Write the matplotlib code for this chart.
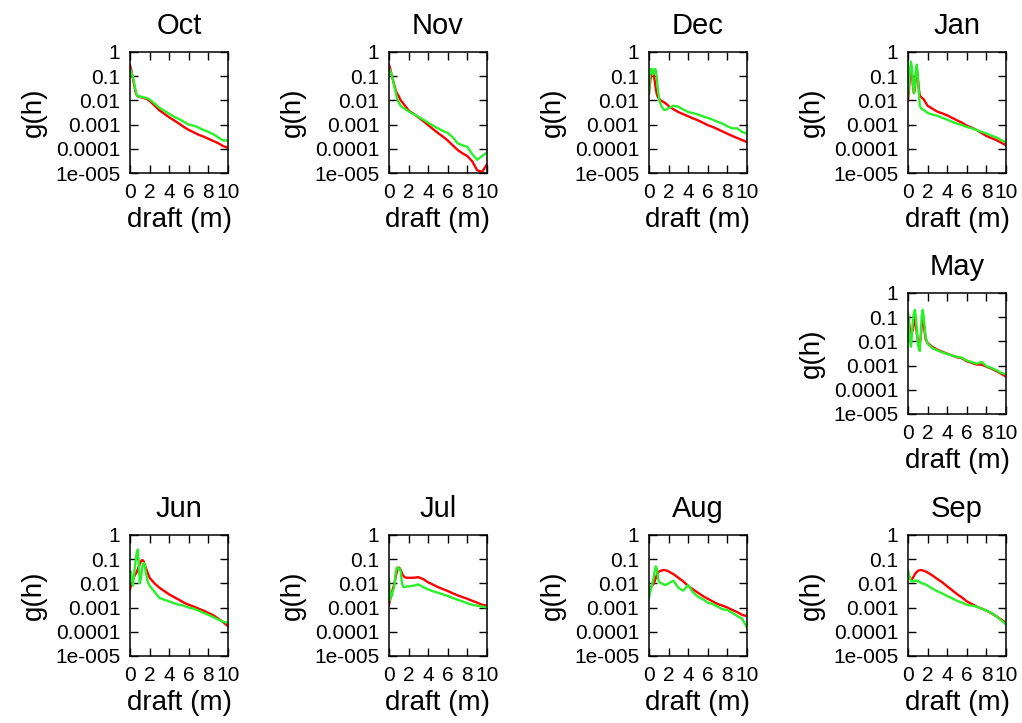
import matplotlib
matplotlib.use("Agg")
import matplotlib.pyplot as plt
import numpy as np
from matplotlib.ticker import LogLocator, NullFormatter

plt.rcParams['font.family'] = ['Liberation Sans', 'DejaVu Sans']

# ice draft bins (m)
draft = [0, 0.1, 0.2, 0.3, 0.4, 0.5, 0.6, 0.7, 0.8, 0.9, 1.0, 1.1, 1.2, 1.3, 1.4,
         1.5, 1.6, 1.8, 2.0, 2.5, 3.0, 3.5, 4.0, 4.5, 5.0, 5.5, 6.0, 6.5, 7.0,
         7.5, 8.0, 8.5, 9.0, 9.5, 10.0]

oct_red = [0.28, 0.2, 0.12, 0.08, 0.05, 0.03, 0.02, 0.016, 0.015, 0.014, 0.014, 0.014, 0.013, 0.013, 0.013,
           0.012, 0.012, 0.011, 0.0095, 0.0062, 0.0039, 0.0028, 0.002, 0.0015, 0.0011, 8e-4, 6e-4, 4.8e-4, 3.8e-4,
           3.2e-4, 2.6e-4, 2.1e-4, 1.7e-4, 1.3e-4, 1.1e-4]
oct_green = [0.2, 0.15, 0.12, 0.09, 0.06, 0.035, 0.022, 0.017, 0.015, 0.015, 0.014, 0.014, 0.014, 0.014, 0.013,
             0.013, 0.013, 0.012, 0.011, 0.0075, 0.005, 0.0037, 0.0028, 0.0021, 0.0017, 0.0013, 0.001, 9e-4, 7.5e-4,
             6e-4, 5e-4, 4e-4, 3e-4, 2.2e-4, 2.2e-4]

nov_red = [0.3, 0.22, 0.15, 0.1, 0.07, 0.05, 0.035, 0.025, 0.02, 0.017, 0.015, 0.012, 0.01, 0.009, 0.008,
           0.007, 0.0063, 0.005, 0.0038, 0.0028, 0.002, 0.0014, 9.5e-4, 6.5e-4, 4.5e-4, 3.2e-4, 2.2e-4, 1.4e-4, 9e-5,
           6.5e-5, 5e-5, 3e-5, 1.3e-5, 1.1e-5, 2.3e-5]
nov_green = [0.2, 0.17, 0.14, 0.1, 0.07, 0.045, 0.03, 0.02, 0.013, 0.01, 0.008, 0.007, 0.006, 0.0055, 0.005,
             0.0048, 0.0045, 0.004, 0.0035, 0.0027, 0.0021, 0.0016, 0.0012, 9e-4, 7e-4, 5.5e-4, 4.5e-4, 3e-4, 1.7e-4,
             1.4e-4, 1.2e-4, 6e-5, 3.5e-5, 5e-5, 7e-5]

dec_red = [0.019, 0.05, 0.1, 0.15, 0.15, 0.1, 0.06, 0.03, 0.018, 0.014, 0.012, 0.011, 0.01, 0.0095, 0.009,
           0.0085, 0.008, 0.007, 0.0058, 0.0043, 0.0033, 0.0027, 0.0022, 0.0018, 0.0015, 0.0012, 9.5e-4, 8e-4, 6.5e-4,
           5.2e-4, 4.2e-4, 3.4e-4, 2.8e-4, 2.3e-4, 1.9e-4]
dec_green = [0.02, 0.1, 0.2, 0.2, 0.12, 0.15, 0.2, 0.18, 0.08, 0.03, 0.015, 0.009, 0.007, 0.0055, 0.0048,
             0.0042, 0.004, 0.0042, 0.0048, 0.006, 0.0055, 0.0042, 0.0033, 0.003, 0.0026, 0.0022, 0.0019, 0.0016, 0.0013,
             0.0011, 8.5e-4, 7e-4, 7e-4, 5e-4, 4.2e-4]

jan_red = [0.01, 0.03, 0.12, 0.25, 0.12, 0.04, 0.02, 0.03, 0.12, 0.2, 0.08, 0.03, 0.016, 0.014, 0.013,
           0.012, 0.011, 0.008, 0.006, 0.0045, 0.0034, 0.0029, 0.0024, 0.0019, 0.0015, 0.0012, 9e-4, 7.5e-4, 6e-4,
           4.5e-4, 3.4e-4, 2.8e-4, 2.3e-4, 1.8e-4, 1.4e-4]
jan_green = [0.014, 0.05, 0.2, 0.4, 0.2, 0.05, 0.02, 0.04, 0.2, 0.3, 0.1, 0.02, 0.006, 0.005, 0.0045,
             0.0042, 0.004, 0.0035, 0.003, 0.0026, 0.0023, 0.0019, 0.0016, 0.0013, 0.0011, 9.5e-4, 8e-4, 7e-4, 6e-4,
             5e-4, 4.3e-4, 3.5e-4, 3e-4, 2.3e-4, 1.8e-4]

may_red = [0.12, 0.06, 0.03, 0.02, 0.025, 0.03, 0.06, 0.08, 0.05, 0.02, 0.01, 0.008, 0.008, 0.015, 0.05,
           0.08, 0.05, 0.012, 0.0085, 0.0058, 0.0045, 0.0037, 0.0031, 0.0026, 0.0022, 0.002, 0.0015, 0.0013, 0.0011,
           0.0011, 9e-4, 7.5e-4, 6e-4, 4.6e-4, 3.5e-4]
may_green = [0.15, 0.04, 0.01, 0.006, 0.02, 0.08, 0.15, 0.2, 0.1, 0.03, 0.008, 0.005, 0.004, 0.02, 0.12,
             0.2, 0.1, 0.015, 0.008, 0.0052, 0.0042, 0.0035, 0.003, 0.0026, 0.0023, 0.0021, 0.0016, 0.0014, 0.0012,
             0.0014, 9.5e-4, 8e-4, 6.5e-4, 5e-4, 4.3e-4]

jun_red = [0.0056, 0.008, 0.011, 0.014, 0.018, 0.022, 0.025, 0.03, 0.038, 0.05, 0.065, 0.08, 0.09, 0.09, 0.08,
           0.06, 0.045, 0.028, 0.017, 0.01, 0.0066, 0.0048, 0.0035, 0.0027, 0.0021, 0.0016, 0.0013, 0.0011, 9e-4,
           7.5e-4, 6e-4, 4.8e-4, 3.5e-4, 2.5e-4, 1.7e-4]
jun_green = [0.025, 0.03, 0.015, 0.008, 0.02, 0.05, 0.1, 0.2, 0.25, 0.06, 0.01, 0.015, 0.03, 0.06, 0.07,
             0.06, 0.03, 0.012, 0.008, 0.0045, 0.0025, 0.0021, 0.0018, 0.0015, 0.0013, 0.0012, 0.001, 9e-4, 7.5e-4,
             6e-4, 5e-4, 4e-4, 3.2e-4, 2.6e-4, 2.3e-4]

jul_red = [0.0013, 0.002, 0.003, 0.004, 0.006, 0.008, 0.012, 0.02, 0.03, 0.04, 0.045, 0.042, 0.035, 0.028, 0.022,
           0.02, 0.018, 0.017, 0.017, 0.017, 0.018, 0.015, 0.011, 0.0088, 0.007, 0.0058, 0.0048, 0.0039, 0.0032,
           0.0027, 0.0023, 0.0019, 0.0016, 0.0013, 0.0012]
jul_green = [0.015, 0.002, 0.004, 0.003, 0.005, 0.006, 0.012, 0.03, 0.045, 0.045, 0.04, 0.04, 0.03, 0.012, 0.008,
             0.007, 0.007, 0.0075, 0.0075, 0.008, 0.009, 0.007, 0.0056, 0.0047, 0.0041, 0.0035, 0.003, 0.0025, 0.0021,
             0.0018, 0.0015, 0.0013, 0.0012, 0.0011, 0.001]

aug_red = [0.0048, 0.006, 0.007, 0.008, 0.009, 0.01, 0.013, 0.017, 0.022, 0.027, 0.03, 0.032, 0.033, 0.034, 0.035,
           0.035, 0.035, 0.034, 0.031, 0.024, 0.017, 0.012, 0.0078, 0.0056, 0.0041, 0.003, 0.0023, 0.0018, 0.0014,
           0.0012, 0.001, 8e-4, 6.5e-4, 5e-4, 4.4e-4]
aug_green = [0.0025, 0.004, 0.006, 0.008, 0.012, 0.02, 0.035, 0.05, 0.04, 0.02, 0.012, 0.011, 0.01, 0.01, 0.0095,
             0.009, 0.0085, 0.009, 0.01, 0.013, 0.0065, 0.005, 0.0085, 0.0042, 0.0028, 0.0022, 0.0016, 0.0014, 0.0011,
             8.5e-4, 8e-4, 6e-4, 4.5e-4, 3.5e-4, 1.5e-4]

sep_red = [0.024, 0.02, 0.016, 0.015, 0.015, 0.017, 0.02, 0.024, 0.027, 0.03, 0.032, 0.034, 0.035, 0.035, 0.035,
           0.034, 0.033, 0.031, 0.028, 0.021, 0.015, 0.011, 0.0075, 0.0052, 0.0036, 0.0026, 0.0018, 0.0014, 0.0011,
           9e-4, 7.5e-4, 5.8e-4, 4.4e-4, 3.2e-4, 2.3e-4]
sep_green = [0.034, 0.022, 0.016, 0.013, 0.012, 0.012, 0.012, 0.013, 0.013, 0.013, 0.012, 0.012, 0.011, 0.011, 0.01,
             0.01, 0.0095, 0.009, 0.008, 0.006, 0.0047, 0.0038, 0.003, 0.0024, 0.0019, 0.0016, 0.0013, 0.0012, 0.0011,
             9e-4, 7.5e-4, 6e-4, 4.4e-4, 3e-4, 2e-4]

y_ticks = [1, 0.1, 0.01, 0.001, 0.0001, 1e-5]
y_labels = ['1', '0.1', '0.01', '0.001', '0.0001', '1e-005']
x_ticks = [0, 2, 4, 6, 8, 10]

# (title, red, green, left, bottom) in figure fractions
panels = [
    ('Oct', oct_red, oct_green, 0.1272, 0.7607),
    ('Nov', nov_red, nov_green, 0.3806, 0.7607),
    ('Dec', dec_red, dec_green, 0.6350, 0.7607),
    ('Jan', jan_red, jan_green, 0.8885, 0.7607),
    ('May', may_red, may_green, 0.8885, 0.4274),
    ('Jun', jun_red, jun_green, 0.1272, 0.0927),
    ('Jul', jul_red, jul_green, 0.3806, 0.0927),
    ('Aug', aug_red, aug_green, 0.6350, 0.0927),
    ('Sep', sep_red, sep_green, 0.8885, 0.0927),
]

fig = plt.figure(figsize=(10.22, 7.23), dpi=100)
W, H = 0.0959, 0.1674

for title, red, green, left, bottom in panels:
    ax = fig.add_axes([left, bottom, W, H])
    ax.plot(draft, red, color='#ff0000', lw=1.7)
    ax.plot(draft, green, color='#2af02a', lw=1.7)
    ax.set_yscale('log')
    ax.set_xlim(0, 10)
    ax.set_ylim(1e-5, 1)
    ax.set_yticks(y_ticks)
    ax.set_yticklabels(y_labels)
    ax.yaxis.set_minor_locator(LogLocator(base=10, subs=(2.0, 4.0, 6.0, 8.0)))
    ax.yaxis.set_minor_formatter(NullFormatter())
    ax.set_xticks(x_ticks)
    ax.set_xticklabels([str(t) for t in x_ticks])
    ax.tick_params(which='both', direction='in', top=True, right=True, width=1)
    ax.tick_params(which='major', length=6, labelsize=15, pad=7)
    ax.tick_params(which='minor', length=3)
    for s in ax.spines.values():
        s.set_linewidth(1.1)
    ax.set_title(title, fontsize=21, pad=13)
    ax.set_xlabel('draft (m)', fontsize=20, labelpad=4)
    ax.set_ylabel('g(h)', fontsize=20, labelpad=6)

fig.savefig('out.png', dpi=100)
